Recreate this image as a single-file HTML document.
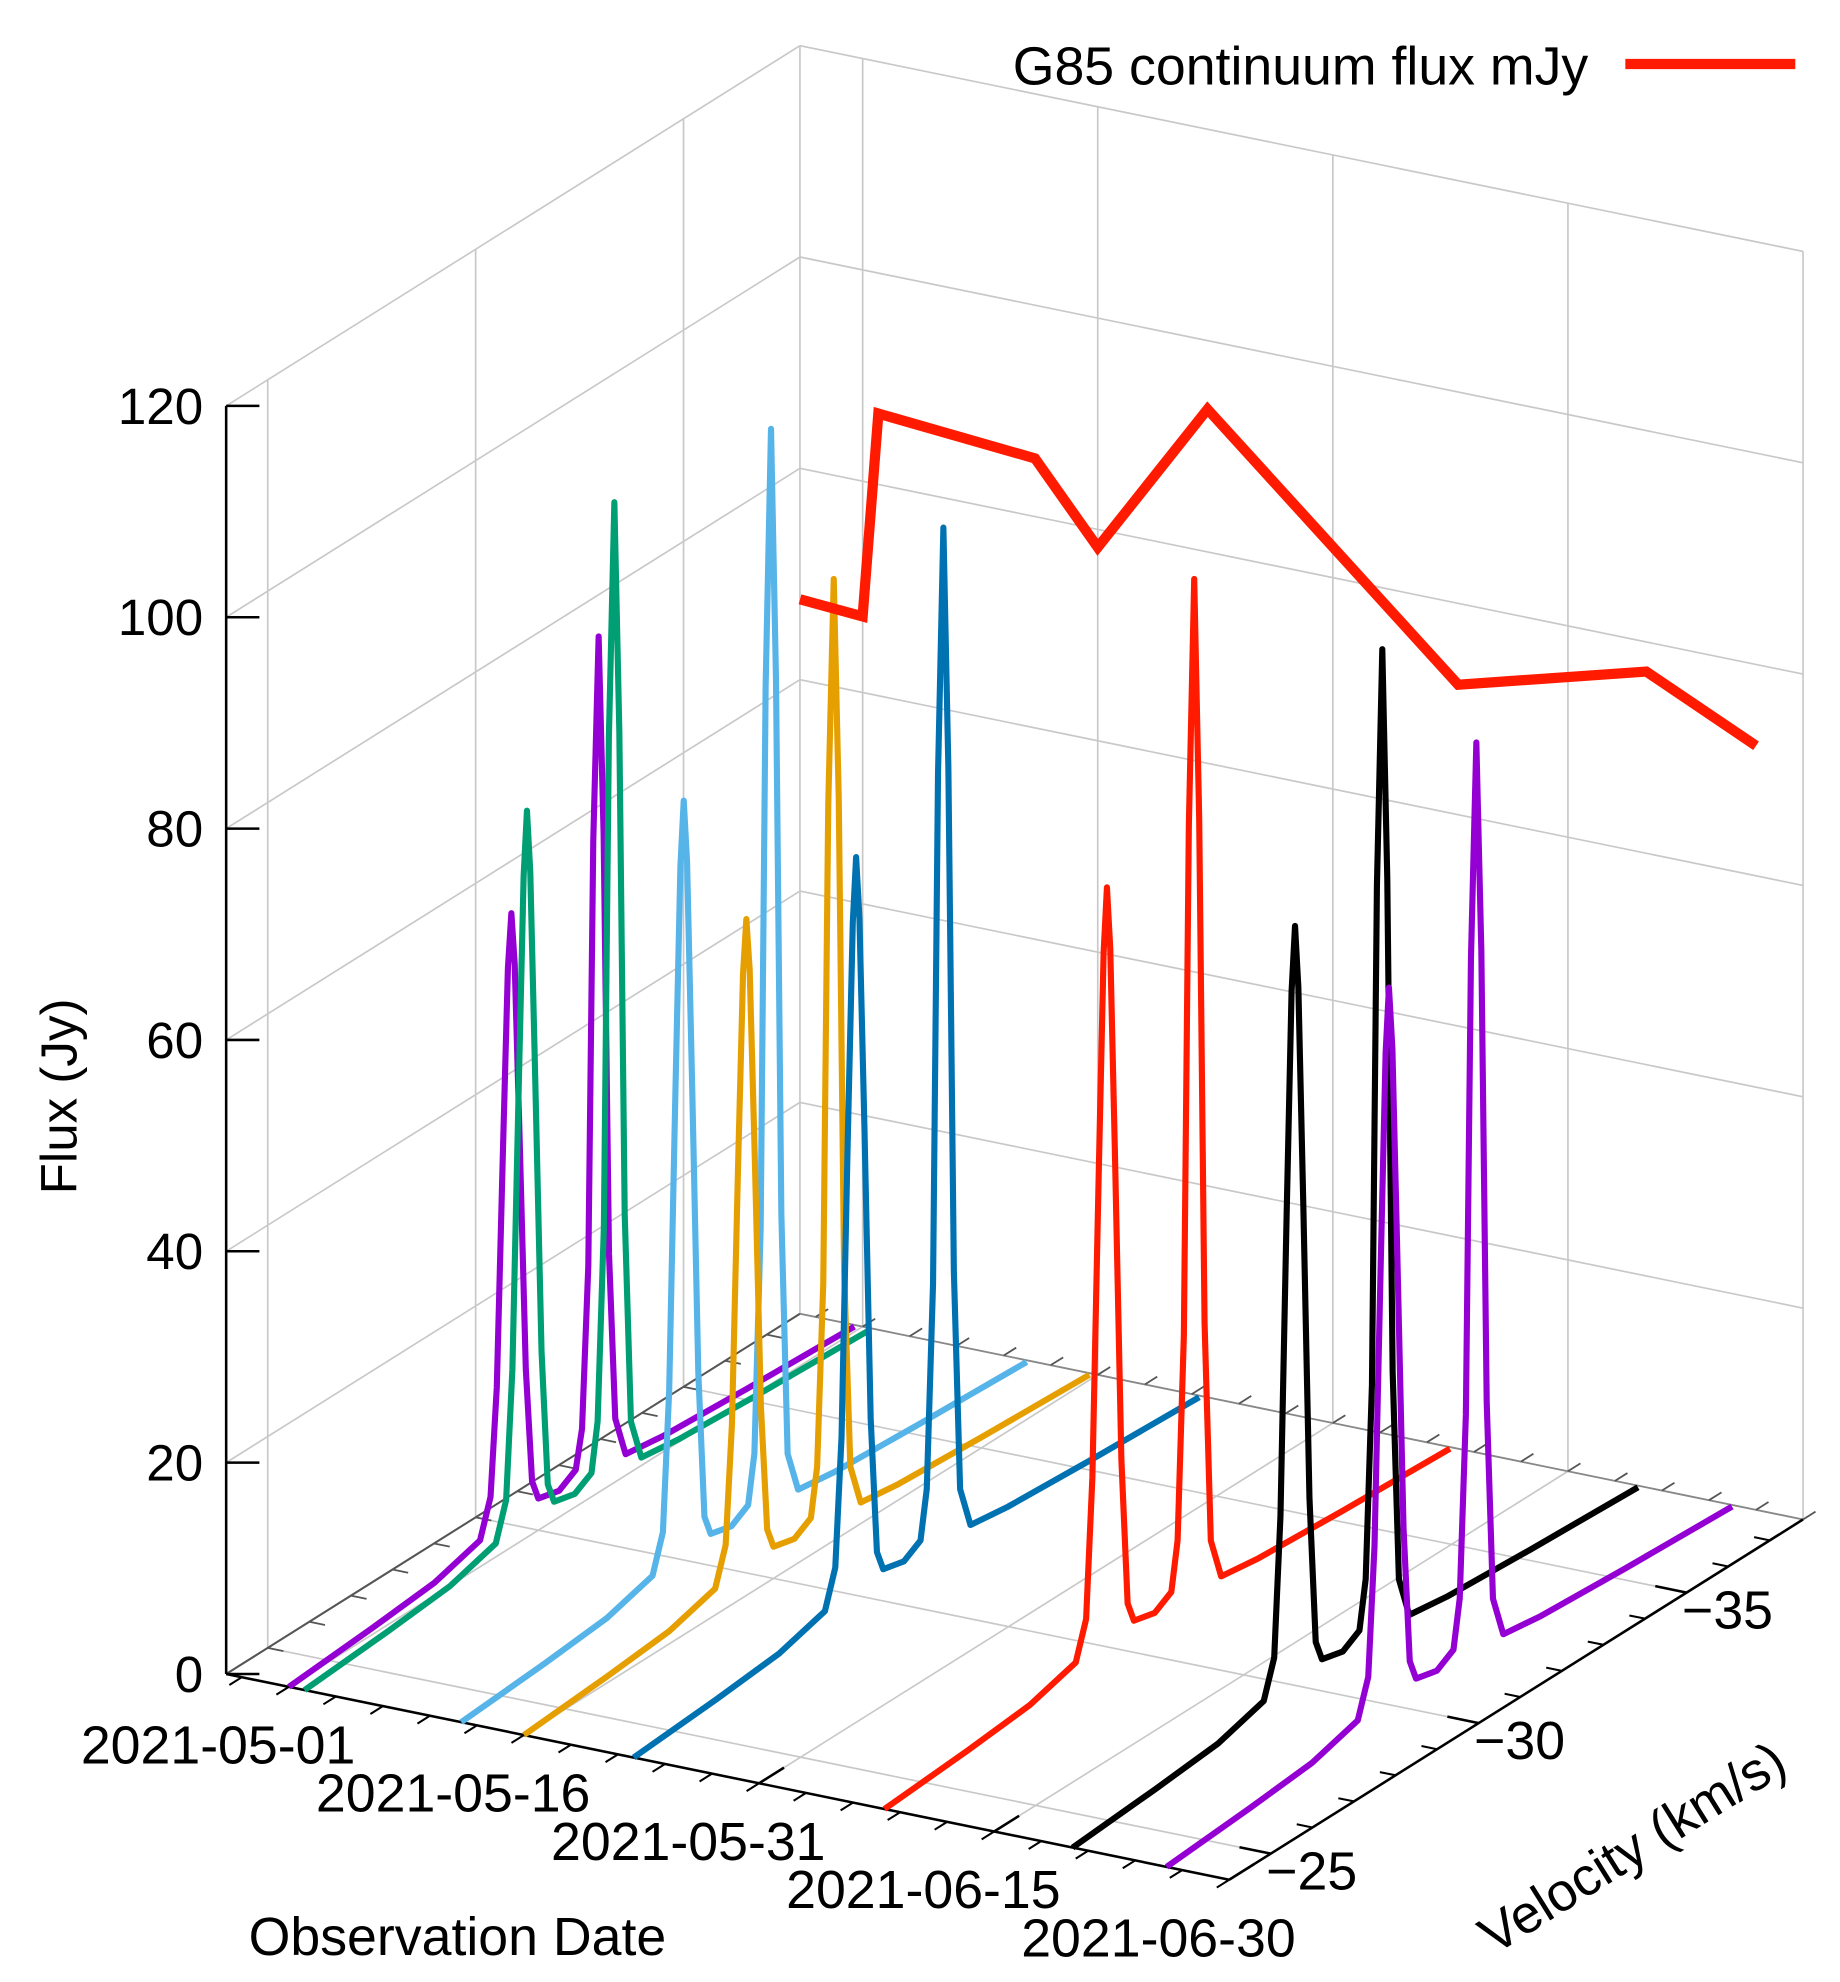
<!DOCTYPE html>
<html><head><meta charset="utf-8"><title>G85 maser spectra</title>
<style>
html,body{margin:0;padding:0;background:#fff;}
svg{display:block;font-family:"Liberation Sans",Arial,sans-serif;}
</style></head>
<body>
<svg id="chart" width="1840" height="1982" viewBox="0 0 1440 1551" xmlns="http://www.w3.org/2000/svg">
<g id="grid"></g>
<g id="axes"></g>
<g id="series"></g>
<text x="0" y="0" font-size="40" text-anchor="middle" transform="translate(60,858) rotate(-90)">Flux (Jy)</text>
<text x="358" y="1530" font-size="42" text-anchor="middle">Observation Date</text>
<text x="0" y="0" font-size="42" text-anchor="middle" transform="translate(1285,1458) rotate(-32)">Velocity (km/s)</text>
<g>
<text x="1243" y="66" font-size="42" text-anchor="end">G85 continuum flux mJy</text>
<line x1="1272" y1="50" x2="1405" y2="50" stroke="#ff1a00" stroke-width="8"/>
</g>
</svg>
<script>
// ---- data ----
const specDates = ['2021-05-01','2021-05-02','2021-05-12','2021-05-16','2021-05-23','2021-06-08','2021-06-20','2021-06-26'];
const specColors = ['#9400d3','#009e73','#56b4e9','#e69f00','#0072b2','#ff1a00','#000000','#9400d3'];
const velGrid = [-24,-26,-27.5,-28.6,-28.85,-29.0,-29.15,-29.27,-29.35,-29.43,-29.55,-29.7,-29.85,-30.0,-30.5,-30.9,-31.05,-31.2,-31.32,-31.45,-31.57,-31.7,-31.85,-32.1,-33,-35,-37.6];
const flux0 = [0,0.6,1.2,2.5,6,16,38,55,60,55,38,16,5,3,2.5,3.5,7,22,62,81,62,22,6,2,1.5,1,0.5];
const flux1 = [0,0.6,1.2,2.5,6,18,44,64,70,64,44,18,5,3,2.5,3.5,8,26,72,94,72,26,6,2,1.5,1,0.5];
const flux2 = [0,0.6,1.2,2.5,6,19,47,68,74,68,47,19,5,3,2.5,3.5,8,29,80,104,80,29,6,2,1.5,1,0.5];
const flux3 = [0,0.6,1.2,2.5,6,17,41,59,64,59,41,17,5,3,2.5,3.5,8,25,70,91,70,25,6,2,1.5,1,0.5];
const flux4 = [0,0.6,1.2,2.5,6,18,46,66,72,66,46,18,5,3,2.5,3.5,8,27,75,98,75,27,6,2,1.5,1,0.5];
const flux5 = [0,0.6,1.2,2.5,6,19,47,68,74,68,47,19,5,3,2.5,3.5,8,27,75,98,75,27,6,2,1.5,1,0.5];
const flux6 = [0,0.6,1.2,2.5,6,19,47,68,74,68,47,19,5,3,2.5,3.5,8,26,73,95,73,26,6,2,1.5,1,0.5];
const flux7 = [0,0.6,1.2,2.5,6,18,44,64,70,64,44,18,5,3,2.5,3.5,8,25,68,88,68,25,6,2,1.5,1,0.5];
const contDates = ['2021-04-27','2021-05-01','2021-05-02','2021-05-12','2021-05-16','2021-05-23','2021-06-08','2021-06-20','2021-06-27'];
const contFlux = [67.6,67.2,86.7,85.5,78.3,93.5,72.3,77.2,72.3];
const zTicks = [0,20,40,60,80,100,120];
const dateTickLabels = ['2021-05-01','2021-05-16','2021-05-31','2021-06-15','2021-06-30'];
const velTicks = [-25,-30,-35];

// ---- axes / projection ----
const dateStart = Date.UTC(2021,3,27);
const tMax = 64, vFront = -24, vBack = -37.8, zMax = 120;
function tOf(s){const p=s.split('-');return (Date.UTC(+p[0],+p[1]-1,+p[2])-dateStart)/86400000;}
function P(t,v,z){
  const dv = vFront - v;
  return [177 + 12.266*t + 32.54*dv, 1310 + 2.516*t - 20.43*dv - 8.27*z];
}
const NS='http://www.w3.org/2000/svg';
function mk(tag,parent,attrs){const e=document.createElementNS(NS,tag);for(const k in attrs)e.setAttribute(k,attrs[k]);parent.appendChild(e);return e;}
function seg(parent,a,b,stroke,w,name){
  const l=mk('line',parent,{x1:a[0],y1:a[1],x2:b[0],y2:b[1],stroke:stroke,'stroke-width':w});
  
  
  return l;
}
const grid=document.getElementById('grid'), axes=document.getElementById('axes'), series=document.getElementById('series');
const GC='#c8c8c8';
zTicks.forEach(z=>{
  seg(grid,P(0,vFront,z),P(0,vBack,z),GC,1.3,'left-wall-gridline');
  seg(grid,P(0,vBack,z),P(tMax,vBack,z),GC,1.3,'back-wall-gridline');
});
velTicks.forEach(v=>{
  seg(grid,P(0,v,0),P(0,v,zMax),GC,1.3,'left-wall-vertical-gridline');
  seg(grid,P(0,v,0),P(tMax,v,0),GC,1.3,'floor-velocity-gridline');
});
seg(grid,P(0,vBack,0),P(0,vBack,zMax),GC,1.3,'back-corner-line');
dateTickLabels.forEach(d=>{
  const t=tOf(d);
  seg(grid,P(t,vBack,0),P(t,vBack,zMax),GC,1.3,'back-wall-vertical-gridline');
  seg(grid,P(t,vFront,0),P(t,vBack,0),GC,1.3,'floor-date-gridline');
});
seg(axes,P(0,vFront,0),P(0,vBack,0),'#555',1.6,'base-left-edge');
seg(axes,P(0,vBack,0),P(tMax,vBack,0),'#888',1.4,'base-back-edge');
seg(axes,P(0,vFront,0),P(tMax,vFront,0),'#000',2,'date-axis-line');
seg(axes,P(tMax,vFront,0),P(tMax,vBack,0),'#000',2,'velocity-axis-line');
seg(axes,P(0,vFront,0),P(0,vFront,zMax),'#000',2,'z-axis-line');
zTicks.forEach(z=>{
  const p=P(0,vFront,z);
  seg(axes,p,[p[0]+26,p[1]],'#000',2,'z-tick');
  const tx=mk('text',axes,{x:159,y:p[1]+14,'font-size':40,'text-anchor':'end'});
  
  
  tx.textContent=z;
});
for(let t=1;t<=tMax;t+=3){
  const a=P(t,vFront,0);seg(axes,a,P(t,vFront+0.3,0),'#000',1.6,'date-minor-tick');
  const b=P(t,vBack,0);seg(axes,b,P(t,vBack-0.3,0),'#555',1.4,'date-minor-tick-back');
}
dateTickLabels.forEach(d=>{
  const t=tOf(d);const p=P(t,vFront,0);
  seg(axes,p,P(t,vFront-0.6,0),'#000',2,'date-tick');
  const tx=mk('text',axes,{x:p[0]+52,y:p[1]+60,'font-size':42,'text-anchor':'end'});
  
  
  tx.textContent=d;
});
for(let v=-25;v>=-37;v--){
  const a=P(tMax,v,0);seg(axes,a,P(tMax-1,v,0),'#000',1.6,'velocity-minor-tick');
  const b=P(0,v,0);seg(axes,b,P(1,v,0),'#555',1.4,'velocity-minor-tick-left');
}
velTicks.forEach(v=>{
  const p=P(tMax,v,0);
  seg(axes,p,P(tMax-2,v,0),'#000',2,'velocity-tick');
  const tx=mk('text',axes,{x:p[0]+32,y:p[1]+28,'font-size':42,'text-anchor':'middle'});
  
  
  tx.textContent='\u2212'+Math.abs(v);
});
const fluxes=[flux0,flux1,flux2,flux3,flux4,flux5,flux6,flux7];
specDates.forEach((d,i)=>{
  const t=tOf(d);
  const pts=velGrid.map((v,j)=>P(t,v,fluxes[i][j]).map(n=>n.toFixed(1)).join(',')).join(' ');
  const pl=mk('polyline',series,{points:pts,fill:'none',stroke:specColors[i],'stroke-width':4.8,'stroke-linejoin':'round'});
  
  
});
const cpts=contDates.map((d,i)=>P(tOf(d),vBack,contFlux[i]).map(n=>n.toFixed(1)).join(',')).join(' ');
const cl=mk('polyline',series,{points:cpts,fill:'none',stroke:'#ff1a00','stroke-width':8,'stroke-linejoin':'miter'});


</script>
</body></html>
